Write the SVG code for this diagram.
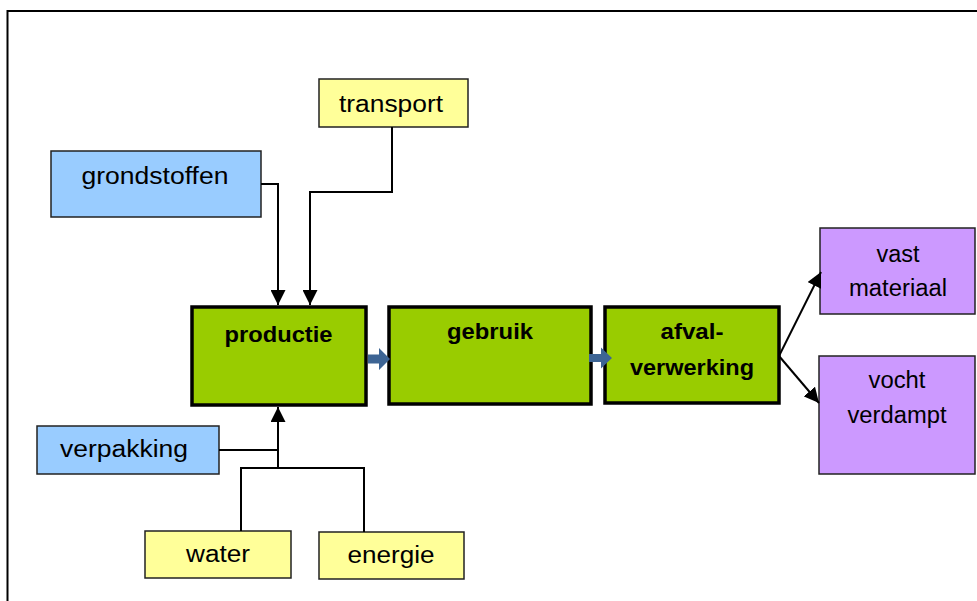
<svg xmlns="http://www.w3.org/2000/svg" width="977" height="601" viewBox="0 0 977 601">
<defs>
<style>
.t{font-family:"Liberation Sans",Arial,sans-serif;font-size:23px;fill:#000;text-anchor:middle}
.b{font-family:"Liberation Sans",Arial,sans-serif;font-size:22px;font-weight:bold;fill:#000;text-anchor:middle}
.blue{fill:#99CCFF;stroke:#222;stroke-width:1.5}
.yel{fill:#FFFF99;stroke:#222;stroke-width:1.5}
.pur{fill:#CC99FF;stroke:#222;stroke-width:1.5}
.grn{fill:#99CC00;stroke:#000;stroke-width:3.5}
.c{fill:none;stroke:#000;stroke-width:2}
.flow{fill:#3D6494}
</style>
<marker id="ah" markerUnits="userSpaceOnUse" markerWidth="15" markerHeight="15" refX="15" refY="7.5" orient="auto">
<path d="M0,0 L15,7.5 L0,15 z" fill="#000"/>
</marker>
</defs>
<rect x="0" y="0" width="977" height="601" fill="#fff"/>
<path d="M7.5,601 V11 H977" fill="none" stroke="#000" stroke-width="2"/>

<g id="grondstoffen"><rect class="blue" x="51" y="151" width="210" height="66"/><text class="t" x="155" y="184" textLength="147" lengthAdjust="spacingAndGlyphs">grondstoffen</text></g>
<g id="transport"><rect class="yel" x="319" y="79" width="149" height="48"/><text class="t" x="391" y="112" textLength="104" lengthAdjust="spacingAndGlyphs">transport</text></g>
<g id="verpakking"><rect class="blue" x="37" y="426" width="182" height="48"/><text class="t" x="124" y="457" textLength="128" lengthAdjust="spacingAndGlyphs">verpakking</text></g>
<g id="water"><rect class="yel" x="145" y="531" width="146" height="47"/><text class="t" x="218" y="562" textLength="64" lengthAdjust="spacingAndGlyphs">water</text></g>
<g id="energie"><rect class="yel" x="319" y="532" width="145" height="47"/><text class="t" x="391" y="563" textLength="87" lengthAdjust="spacingAndGlyphs">energie</text></g>

<g id="productie"><rect class="grn" x="192" y="307" width="174" height="98"/><text class="b" x="278.5" y="341.5" textLength="108" lengthAdjust="spacingAndGlyphs">productie</text></g>
<g id="gebruik"><rect class="grn" x="389" y="307" width="202" height="97"/><text class="b" x="490" y="339" textLength="86" lengthAdjust="spacingAndGlyphs">gebruik</text></g>
<g id="afvalverwerking"><rect class="grn" x="605" y="307" width="174" height="96"/><text class="b" x="692" y="339" textLength="63" lengthAdjust="spacingAndGlyphs">afval-</text><text class="b" x="692" y="375" textLength="124" lengthAdjust="spacingAndGlyphs">verwerking</text></g>

<g id="vastmateriaal"><rect class="pur" x="820" y="228" width="155" height="86"/><text class="t" x="898" y="262" textLength="43" lengthAdjust="spacingAndGlyphs">vast</text><text class="t" x="898" y="296" textLength="98" lengthAdjust="spacingAndGlyphs">materiaal</text></g>
<g id="vochtverdampt"><rect class="pur" x="819" y="356" width="156" height="118"/><text class="t" x="897" y="388" textLength="57" lengthAdjust="spacingAndGlyphs">vocht</text><text class="t" x="897" y="423" textLength="99" lengthAdjust="spacingAndGlyphs">verdampt</text></g>

<g id="connectors">
<path class="c" d="M261,184 H278 V305" marker-end="url(#ah)"/>
<path class="c" d="M392,127 V192 H310 V305" marker-end="url(#ah)"/>
<path class="c" d="M219,450 H278"/>
<path class="c" d="M241,531 V468 H364 V532"/>
<path class="c" d="M278,469 V407" stroke-width="3" marker-end="url(#ah)"/>
<path class="c" d="M779,356 L821,272" marker-end="url(#ah)"/>
<path class="c" d="M779,356 L819,403" marker-end="url(#ah)"/>
<path class="flow" d="M368,354.5 H379 V348 L390,359 L379,370 V363.5 H368 z"/>
<path class="flow" d="M589,354 H601 V347.5 L612,358 L601,368.5 V362 H589 z"/>
</g>
</svg>
